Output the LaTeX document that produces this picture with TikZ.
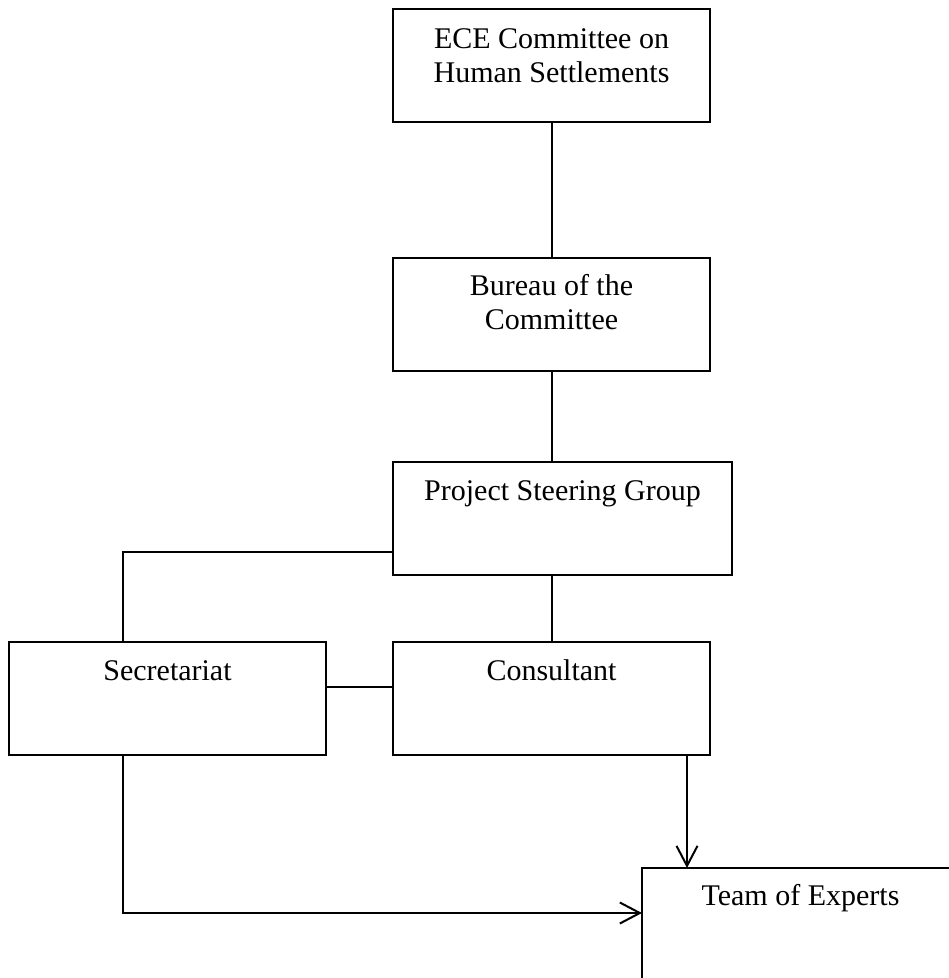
\documentclass[tikz,border=0pt]{standalone}
\usepackage{fontspec}
\setmainfont{Liberation Serif}
\usetikzlibrary{arrows.meta}
\tikzset{
  box/.style={draw, line width=2pt, rectangle, inner sep=0pt, outer sep=0pt, anchor=north west, minimum height=113pt},
  lbl/.style={inner sep=0pt, align=center, anchor=base, font=\fontsize{30}{34.5}\selectfont},
  conn/.style={line width=2pt},
  arr/.style={line width=2pt, -{Straight Barb[length=20pt,width=21pt]}}
}
\begin{document}
\begin{tikzpicture}[x=1pt,y=-1pt]
\clip (0,0) rectangle (949,978);
\fill[white] (0,0) rectangle (949,978);
\node[box, minimum width=317pt] (ece) at (393,9) {};
\node[box, minimum width=317pt] (bur) at (393,258) {};
\node[box, minimum width=339pt] (psg) at (393,462) {};
\node[box, minimum width=317pt] (sec) at (9,642) {};
\node[box, minimum width=317pt] (con) at (393,642) {};
\node[box, minimum width=317pt] (team) at (642,868) {};
\node[lbl] (ecet) at ([yshift=-73.5pt]ece.north) {ECE Committee on\\Human Settlements};
\node[lbl] (burt) at ([yshift=-71.5pt]bur.north) {Bureau of the\\Committee};
\node[lbl] (psgt) at ([yshift=-38pt]psg.north) {Project Steering Group};
\node[lbl] (sect) at ([yshift=-38pt]sec.north) {Secretariat};
\node[lbl] (cont) at ([yshift=-38pt]con.north) {Consultant};
\node[lbl] (teamt) at ([yshift=-37pt]team.north) {Team of Experts};
\coordinate (psgl) at ([yshift=-90pt]psg.north west);
\coordinate (sectop) at ([xshift=113.5pt]sec.north west);
\coordinate (secbot) at ([xshift=113.5pt]sec.south west);
\coordinate (secr) at ([yshift=-45pt]sec.north east);
\coordinate (conl) at ([yshift=-45pt]con.north west);
\coordinate (teaml) at ([yshift=-45pt]team.north west);
\coordinate (teamtop) at ([xshift=45pt]team.north west);
\coordinate (conbot) at ([xshift=-23pt]con.south east);
\draw[conn] (ece.south) -- (bur.north);
\draw[conn] (bur.south) -- (bur.south |- psg.north);
\draw[conn] (con.north |- psg.south) -- (con.north);
\draw[conn] (psgl) -| (sectop);
\draw[conn] (secr) -- (conl);
\draw[arr] (secbot) |- (teaml);
\draw[arr] (conbot) -- (teamtop);
\end{tikzpicture}
\end{document}
